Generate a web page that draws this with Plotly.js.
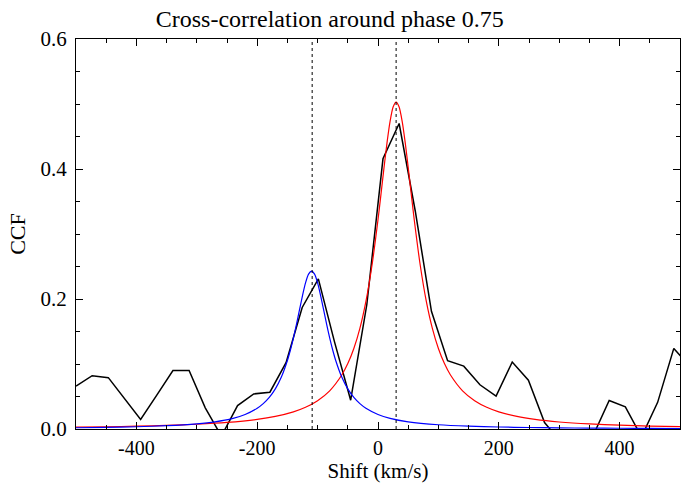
<!DOCTYPE html>
<html>
<head>
<meta charset="utf-8">
<script src="https://cdn.plot.ly/plotly-3.0.1.min.js"></script>
<style>html,body{margin:0;padding:0;background:#fff;}#chart{width:684px;height:483px;}</style>
</head>
<body>
<div id="chart"></div>
<script>
// Measured CCF (black), sampled every ~26.75 km/s starting at -500
const ccfShift = [-500, -473.25, -446.5, -419.75, -393, -366.25, -339.5, -312.75, -286, -259.25,
  -232.5, -205.75, -179, -152.25, -125.5, -98.75, -72, -45.25, -18.5, 8.25,
  35, 61.75, 88.5, 115.25, 142, 168.75, 195.5, 222.25, 249, 275.75,
  302.5, 329.25, 356, 382.75, 409.5, 436.25, 463, 489.75, 516.5];
const ccfValue = [0.066, 0.082, 0.079, 0.047, 0.0146, 0.052, 0.090, 0.090, 0.0326, -0.011,
  0.036, 0.054, 0.0566, 0.102, 0.187, 0.231, 0.134, 0.0443, 0.1915, 0.4157,
  0.470, 0.335, 0.181, 0.105, 0.0967, 0.068, 0.0505, 0.103, 0.075, 0.010,
  -0.020, -0.020, -0.0105, 0.0438, 0.034, -0.012, 0.041, 0.124, 0.096];

// Red fitted component
const redShift = [-500, -450, -400, -350, -300, -250, -200, -170, -140, -120, -100, -80, -60, -50, -40, -30, -20, -10,
  0, 5, 10, 15, 20, 25, 30, 35, 40, 45, 50, 55, 60, 70, 80, 90, 100, 110, 120, 140, 160, 180, 200, 230, 260, 300, 350, 400, 450, 500];
const redValue = [0.00285, 0.00347, 0.00432, 0.00551, 0.00728, 0.01006, 0.01477, 0.01935, 0.02639, 0.0334, 0.0435, 0.0587, 0.0830, 0.1006, 0.1238, 0.1548, 0.1963, 0.2515,
  0.3219, 0.3617, 0.4024, 0.4410, 0.4734, 0.4953, 0.503, 0.4953, 0.4734, 0.4410, 0.4024, 0.3617, 0.3219, 0.2515, 0.1963, 0.1548, 0.1238, 0.1006, 0.0830, 0.0587, 0.0435, 0.0334, 0.02639, 0.01935, 0.01477, 0.0108, 0.00774, 0.00581, 0.00452, 0.00362];

// Blue fitted component
const blueShift = [-500, -450, -400, -350, -300, -270, -240, -220, -200, -190, -180, -170, -160, -150, -145, -140, -135, -130, -125, -120, -115,
  -110, -105, -100, -95, -90, -85, -80, -75, -70, -60, -50, -40, -30, -20, 0, 20, 50, 100, 150, 200, 250, 300, 350, 400, 450, 500];
const blueValue = [0.00194, 0.00255, 0.00349, 0.00506, 0.00798, 0.0111, 0.01643, 0.02234, 0.0319, 0.0390, 0.0486, 0.0617, 0.0799, 0.1054, 0.1215, 0.1401, 0.1609, 0.1832, 0.2053, 0.2247, 0.2382,
  0.243, 0.2382, 0.2247, 0.2053, 0.1832, 0.1609, 0.1401, 0.1215, 0.1054, 0.0799, 0.0617, 0.0486, 0.0390, 0.0319, 0.02234, 0.01643, 0.0111, 0.00657, 0.00433, 0.00306, 0.00228, 0.00176, 0.0014, 0.00114, 0.00095, 0.0008];

// Fitted centres (dotted markers)
const fitCenters = [-109, 30];

// Axis ticks
const xTickVals = [-400, -200, 0, 200, 400];
const yTickVals = [0, 0.2, 0.4, 0.6];

const FONT = '"Liberation Serif", "DejaVu Serif", serif';

const traces = [
  {x: ccfShift, y: ccfValue, type: 'scatter', mode: 'lines', line: {color: '#000000', width: 1.5}, hoverinfo: 'skip'},
  {x: redShift, y: redValue, type: 'scatter', mode: 'lines', line: {color: '#ff0000', width: 1.2, shape: 'spline', smoothing: 0.6}, hoverinfo: 'skip'},
  {x: blueShift, y: blueValue, type: 'scatter', mode: 'lines', line: {color: '#0000ff', width: 1.2, shape: 'spline', smoothing: 0.6}, hoverinfo: 'skip'}
];

const shapes = fitCenters.map(c => ({
  type: 'line', xref: 'x', yref: 'paper', x0: c, x1: c, y0: 0, y1: 1,
  line: {color: '#000000', width: 1, dash: 'dot'}
}));

const layout = {
  width: 684, height: 483,
  margin: {l: 76, r: 4, t: 39, b: 54},
  paper_bgcolor: '#ffffff', plot_bgcolor: '#ffffff',
  showlegend: false,
  font: {family: FONT, color: '#000000', size: 20},
  title: {text: 'Cross-correlation around phase 0.75', font: {family: FONT, size: 24, color: '#000'},
    xref: 'container', yref: 'container', x: 0.482, xanchor: 'center', y: 0.962, yanchor: 'middle'},
  xaxis: {
    range: [-500, 500], showgrid: false, zeroline: false,
    showline: true, linecolor: '#000', linewidth: 1, mirror: 'ticks',
    ticks: 'inside', ticklen: 7, tickcolor: '#000', tickwidth: 1,
    tickvals: xTickVals, ticktext: xTickVals.map(String),
    minor: {dtick: 50, ticks: 'inside', ticklen: 4, tickcolor: '#000', showgrid: false},
    tickfont: {family: FONT, size: 20}, ticklabelstandoff: 1,
    title: {text: 'Shift (km/s)', font: {family: FONT, size: 21}, standoff: 4}
  },
  yaxis: {
    range: [0, 0.6], showgrid: false, zeroline: false,
    showline: true, linecolor: '#000', linewidth: 1, mirror: 'ticks',
    ticks: 'inside', ticklen: 7, tickcolor: '#000', tickwidth: 1,
    tickvals: yTickVals, ticktext: yTickVals.map(v => v.toFixed(1)),
    minor: {dtick: 0.05, ticks: 'inside', ticklen: 4, tickcolor: '#000', showgrid: false},
    tickfont: {family: FONT, size: 21}, ticklabelstandoff: 4,
    title: {text: 'CCF', font: {family: FONT, size: 22}, standoff: 8}
  },
  shapes: shapes
};

Plotly.newPlot('chart', traces, layout, {staticPlot: true, displayModeBar: false});
</script>
</body>
</html>
